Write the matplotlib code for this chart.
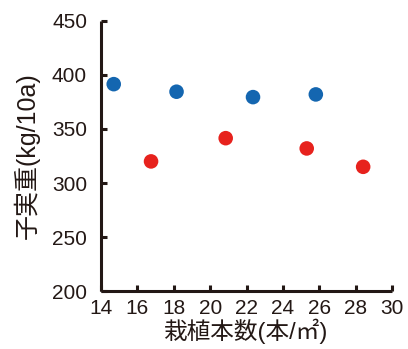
import matplotlib
matplotlib.use("Agg")
import matplotlib.pyplot as plt

plt.rcParams['font.family'] = ['Liberation Sans', 'Noto Sans CJK JP', 'DejaVu Sans']

# 読み取り値
blue_x = [14.7, 18.15, 22.35, 25.8]
blue_y = [391.5, 384.5, 379.5, 382.0]
red_x = [16.75, 20.85, 25.3, 28.4]
red_y = [320.0, 341.5, 332.0, 315.0]

xticks = list(range(14, 31, 2))
yticks = list(range(200, 451, 50))

fig = plt.figure(figsize=(4.08, 3.49), dpi=100)
ax = fig.add_axes([0.2475, 0.166, 0.714, 0.774])

ax.scatter(blue_x, blue_y, s=110, color="#1466b0", edgecolors="none", zorder=3)
ax.scatter(red_x, red_y, s=110, color="#e7221d", edgecolors="none", zorder=3)

ax.set_xlim(14, 30)
ax.set_ylim(200, 450)
ax.set_xticks(xticks)
ax.set_yticks(yticks)

for s in ["top", "right"]:
    ax.spines[s].set_visible(False)
for s in ["left", "bottom"]:
    ax.spines[s].set_linewidth(2.2)
    ax.spines[s].set_color("#231815")
    ax.spines[s].set_capstyle("butt")

ax.tick_params(direction="in", length=4, width=2.2, color="#231815",
               labelsize=15, labelcolor="#231815")
ax.tick_params(axis="x", pad=6)
ax.tick_params(axis="y", pad=10)

ax.set_xlabel("栽植本数(本/㎡)", fontsize=17, color="#231815", labelpad=0)
ax.set_ylabel("子実重(kg/10a)", fontsize=18, color="#231815", labelpad=9)

fig.savefig("out.png", dpi=100)
